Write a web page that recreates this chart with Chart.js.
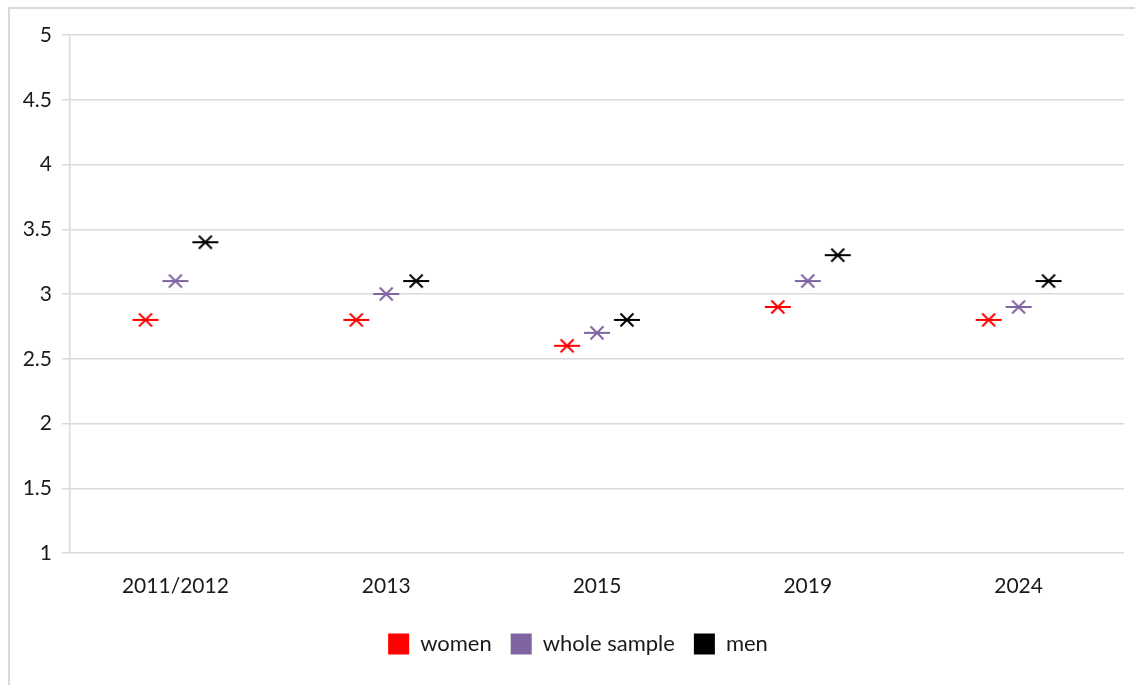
<!DOCTYPE html>
<html>
<head>
<meta charset="utf-8">
<script src="https://cdn.jsdelivr.net/npm/chart.js@4.4.1/dist/chart.umd.min.js"></script>
<style>
  html, body { margin: 0; padding: 0; background: #fff; overflow: hidden; }
  #frame { position: absolute; left: 8px; top: 7px; width: 1200px; height: 800px;
           border-left: 2px solid #d9d9d9; border-top: 2px solid #d9d9d9; }
  #wrap { position: absolute; left: 0; top: 0; width: 1135px; height: 685px; }
</style>
</head>
<body>
<div id="frame"></div>
<div id="wrap"><canvas id="c" width="1135" height="685"></canvas></div>
<script>
const categories = ['2011/2012', '2013', '2015', '2019', '2024'];
const women = [2.8, 2.8, 2.6, 2.9, 2.8];
const wholeSample = [3.1, 3.0, 2.7, 3.1, 2.9];
const men = [3.4, 3.1, 2.8, 3.3, 3.1];
const yTicks = [1, 1.5, 2, 2.5, 3, 3.5, 4, 4.5, 5];

function marker(color) {
  const c = document.createElement('canvas');
  c.width = 28; c.height = 16;
  const g = c.getContext('2d');
  g.strokeStyle = color; g.lineWidth = 2; g.lineCap = 'butt';
  g.beginPath();
  g.moveTo(1, 8); g.lineTo(27, 8);
  g.moveTo(7.5, 1.5); g.lineTo(20.5, 14.5);
  g.moveTo(20.5, 1.5); g.lineTo(7.5, 14.5);
  g.stroke();
  return c;
}

const OFF = 0.142;
function pts(arr, off) { return arr.map((v, i) => ({ x: i + off, y: v })); }

const font = { family: 'Lato, "Open Sans", sans-serif', size: 21 };
const legendFont = { family: 'Lato, "Open Sans", sans-serif', size: 22 };

const shiftLegend = {
  id: 'shiftLegend',
  afterLayout(chart) {
    if (chart.legend) { chart.legend.left += 16; chart.legend.right += 16; }
  }
};

new Chart(document.getElementById('c'), {
  type: 'scatter',
  plugins: [shiftLegend],
  data: {
    datasets: [
      { label: 'women', data: pts(women, -OFF), backgroundColor: '#ff0000', borderColor: '#ff0000',
        pointStyle: marker('#ff0000'), borderWidth: 0 },
      { label: 'whole sample', data: pts(wholeSample, 0), backgroundColor: '#8064a2', borderColor: '#8064a2',
        pointStyle: marker('#8064a2'), borderWidth: 0 },
      { label: 'men', data: pts(men, OFF), backgroundColor: '#000000', borderColor: '#000000',
        pointStyle: marker('#000000'), borderWidth: 0 }
    ]
  },
  options: {
    responsive: false,
    animation: false,
    layout: { padding: { top: 35, right: 11, bottom: 20, left: 0 } },
    plugins: {
      tooltip: { enabled: false },
      legend: {
        position: 'bottom',
        labels: { boxWidth: 21, boxHeight: 21, padding: 19, color: '#1a1a1a', font: legendFont }
      }
    },
    scales: {
      x: {
        type: 'linear', min: -0.5, max: 4.5,
        afterBuildTicks: s => { s.ticks = categories.map((_, i) => ({ value: i })); },
        afterFit: s => { s.height = 61; },
        grid: { display: false, drawTicks: false },
        border: { display: false },
        ticks: { padding: 21, color: '#1a1a1a', font: font, autoSkip: false, maxRotation: 0,
                 callback: v => categories[v] }
      },
      y: {
        min: 1, max: 5,
        afterBuildTicks: s => { s.ticks = yTicks.map(v => ({ value: v })); },
        afterFit: s => { s.width = 70; },
        grid: { color: '#d9d9d9', lineWidth: 1.5, tickLength: 8, tickColor: '#d9d9d9' },
        border: { display: true, color: '#d9d9d9', width: 1.5 },
        ticks: { padding: 10, color: '#1a1a1a', font: font, callback: v => String(v) }
      }
    }
  }
});
</script>
</body>
</html>
